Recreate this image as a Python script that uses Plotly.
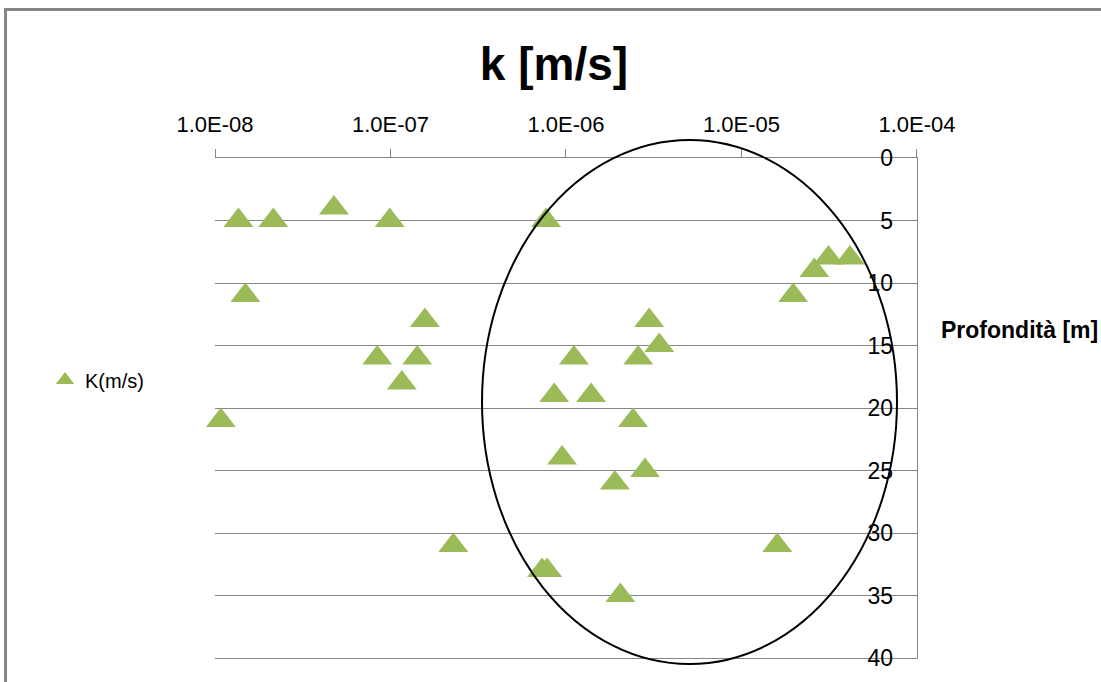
import plotly.graph_objects as go

# Data
k_values = [1.36e-8, 2.15e-8, 4.76e-8, 9.9e-8, 7.7e-7,
            1.49e-8, 1.57e-7, 8.4e-8, 1.42e-7, 1.16e-7,
            1.08e-8, 1.11e-6, 2.98e-6, 3.4e-6, 2.58e-6,
            8.57e-7, 1.39e-6, 2.41e-6, 9.5e-7, 2.82e-6,
            1.9e-6, 2.28e-7, 7.31e-7, 7.81e-7, 2.04e-6,
            1.6e-5, 2.6e-5, 3.13e-5, 4.15e-5, 1.97e-5]
depth = [5, 5, 4, 5, 5,
         11, 13, 16, 16, 18,
         21, 16, 13, 15, 16,
         19, 19, 21, 24, 25,
         26, 31, 33, 33, 35,
         31, 9, 8, 8, 11]

x_tickvals = [1e-8, 1e-7, 1e-6, 1e-5, 1e-4]
x_ticktext = ["1.0E-08", "1.0E-07", "1.0E-06", "1.0E-05", "1.0E-04"]
y_tickvals = [0, 5, 10, 15, 20, 25, 30, 35, 40]

series_name = "K(m/s)"
title_text = "k [m/s]"
y_title = "Profondità [m]"

W, H = 1101, 682
L, R, T, B = 215, 1101 - 917, 158, 682 - 658
PW, PH = W - L - R, H - T - B


def px_x(p):
    return (p - L) / PW


def px_y(p):
    return (H - B - p) / PH


FONT = "Liberation Sans"
GRID = "#868686"

fig = go.Figure()
fig.add_trace(go.Scatter(
    x=k_values, y=depth, mode="markers", name=series_name,
    cliponaxis=False,
    marker=dict(symbol="triangle-up", size=26, color="#9BBB59",
                line=dict(width=0)),
))
# empty helper trace so the label axis (y2) is drawn
fig.add_trace(go.Scatter(x=[], y=[], yaxis="y2", showlegend=False,
                         hoverinfo="skip", mode="markers"))

fig.update_layout(
    width=W, height=H,
    margin=dict(l=L, r=R, t=T, b=B, pad=0),
    paper_bgcolor="white", plot_bgcolor="white",
    font=dict(family=FONT, color="black"),
    title=dict(text="<b>" + title_text + "</b>", xref="container", yref="container",
               x=554 / W, y=1 - 64 / H, xanchor="center", yanchor="middle",
               font=dict(size=46, family=FONT, color="black")),
    showlegend=True,
    legend=dict(x=px_x(45), y=px_y(380), xanchor="left", yanchor="middle",
                bgcolor="rgba(0,0,0,0)", font=dict(size=20, family=FONT),
                itemsizing="trace", itemwidth=30),
    xaxis=dict(type="log", range=[-8, -3.9999], side="top",
               tickvals=x_tickvals, ticktext=x_ticktext,
               ticks="outside", ticklen=8, tickcolor=GRID, tickwidth=1,
               ticklabelstandoff=8,
               showline=True, mirror=True, linecolor=GRID, linewidth=1,
               showgrid=False, zeroline=False,
               tickfont=dict(size=22, family=FONT, color="black")),
    yaxis=dict(range=[40, 0], side="right", tickvals=y_tickvals,
               showticklabels=False,
               ticks="", showline=True, linecolor=GRID, linewidth=1,
               showgrid=True, gridcolor=GRID, gridwidth=1, zeroline=False),
    yaxis2=dict(range=[40, 0], overlaying="y", side="left", anchor="free",
                position=px_x(893), tickvals=y_tickvals, ticks="",
                showline=False, showgrid=False, zeroline=False,
                tickfont=dict(size=23, family=FONT, color="black")),
)

# Horizontal axis title on the right
fig.add_annotation(text="<b>" + y_title + "</b>", xref="paper", yref="paper",
                   x=px_x(939), y=px_y(330), xanchor="left", yanchor="middle",
                   showarrow=False, font=dict(size=23, family=FONT, color="black"))

# Ellipse around the high-permeability group
fig.add_shape(type="circle", xref="paper", yref="paper",
              x0=px_x(482), x1=px_x(897), y0=px_y(664), y1=px_y(140),
              line=dict(color="black", width=2), fillcolor="rgba(0,0,0,0)")

# Chart frame
fig.add_shape(type="rect", xref="paper", yref="paper",
              x0=px_x(5.5), x1=px_x(1120), y0=px_y(700), y1=px_y(9.5),
              line=dict(color=GRID, width=3), fillcolor="rgba(0,0,0,0)", layer="below")

fig.write_html("out.html")
